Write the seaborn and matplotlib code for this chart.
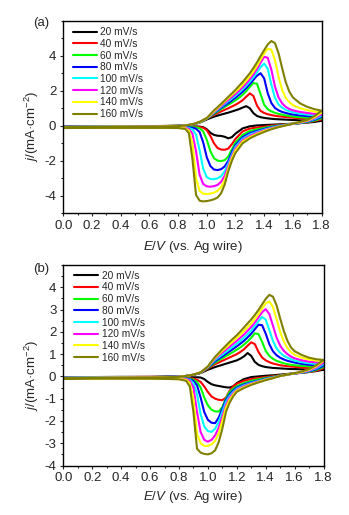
import numpy as np
import pandas as pd
import seaborn as sns
import matplotlib.pyplot as plt
from matplotlib.ticker import MultipleLocator, FormatStrFormatter

# scan rates and colours
rates = ['20 mV/s', '40 mV/s', '60 mV/s', '80 mV/s',
         '100 mV/s', '120 mV/s', '140 mV/s', '160 mV/s']
colors = ['#000000', '#ff0000', '#00ff00', '#0000ff',
          '#00ffff', '#ff00ff', '#ffff00', '#808000']

# potential grid: forward (anodic) scan and reverse (cathodic) scan
E_fwd = [0.0, 0.2, 0.4, 0.6, 0.7, 0.8, 0.85, 0.9, 0.95,
         1.0, 1.05, 1.1, 1.15, 1.2, 1.225, 1.25, 1.275, 1.3, 1.325, 1.35, 1.375,
         1.4, 1.425, 1.45, 1.475, 1.5, 1.525, 1.55, 1.575, 1.6, 1.65, 1.7, 1.75, 1.8]
E_rev = [1.8, 1.75, 1.7, 1.65, 1.6, 1.55, 1.5, 1.45, 1.4, 1.35, 1.3, 1.25,
         1.2, 1.175, 1.15, 1.125, 1.1, 1.075, 1.05, 1.025, 1.0, 0.975, 0.95, 0.925, 0.9, 0.875, 0.85,
         0.8, 0.7, 0.6, 0.4, 0.2, 0.0]

# panel (a), current density mA/cm2, one row per scan rate
a_fwd = [
    [-0.03, -0.03, -0.02, -0.02, -0.01, 0.0, 0.02, 0.07, 0.18,
     0.36, 0.52, 0.64, 0.75, 0.88, 0.95, 1.04, 1.12, 1.0, 0.72, 0.56, 0.49, 0.45, 0.42, 0.4, 0.38,
     0.37, 0.36, 0.35, 0.34, 0.33, 0.31, 0.3, 0.29, 0.28],
    [-0.04, -0.03, -0.03, -0.02, -0.02, 0.0, 0.02, 0.07, 0.19,
     0.4, 0.62, 0.82, 1.0, 1.2, 1.32, 1.46, 1.66, 1.85, 1.7, 1.15, 0.85, 0.73, 0.66, 0.61, 0.57,
     0.54, 0.52, 0.5, 0.48, 0.46, 0.43, 0.41, 0.39, 0.37],
    [-0.04, -0.04, -0.03, -0.03, -0.02, 0.0, 0.02, 0.07, 0.19,
     0.41, 0.68, 0.95, 1.2, 1.45, 1.6, 1.77, 1.98, 2.22, 2.44, 2.4, 1.8, 1.2, 0.95, 0.82, 0.74,
     0.68, 0.63, 0.59, 0.56, 0.53, 0.49, 0.46, 0.44, 0.42],
    [-0.05, -0.05, -0.04, -0.03, -0.02, -0.01, 0.02, 0.07, 0.2,
     0.42, 0.72, 1.02, 1.3, 1.6, 1.77, 1.95, 2.15, 2.38, 2.62, 2.86, 3.0, 2.7, 1.85, 1.3, 1.02,
     0.88, 0.79, 0.73, 0.68, 0.64, 0.59, 0.55, 0.52, 0.5],
    [-0.06, -0.05, -0.04, -0.04, -0.03, -0.01, 0.02, 0.08, 0.2,
     0.42, 0.75, 1.08, 1.4, 1.72, 1.9, 2.08, 2.3, 2.52, 2.77, 3.04, 3.35, 3.55, 3.25, 2.35, 1.6,
     1.22, 1.03, 0.91, 0.83, 0.77, 0.69, 0.64, 0.6, 0.57],
    [-0.06, -0.06, -0.05, -0.04, -0.03, -0.01, 0.02, 0.08, 0.21,
     0.43, 0.78, 1.13, 1.48, 1.82, 2.0, 2.2, 2.42, 2.66, 2.93, 3.24, 3.6, 3.94, 3.88, 3.2, 2.25,
     1.62, 1.28, 1.08, 0.96, 0.88, 0.79, 0.73, 0.68, 0.65],
    [-0.07, -0.06, -0.05, -0.05, -0.04, -0.02, 0.02, 0.08, 0.21,
     0.43, 0.82, 1.2, 1.58, 1.95, 2.13, 2.35, 2.58, 2.83, 3.1, 3.42, 3.78, 4.13, 4.4, 4.35, 3.75,
     2.8, 2.05, 1.6, 1.35, 1.18, 1.0, 0.89, 0.81, 0.75],
    [-0.08, -0.07, -0.06, -0.05, -0.04, -0.02, 0.02, 0.08, 0.22,
     0.44, 0.88, 1.25, 1.65, 2.05, 2.28, 2.5, 2.75, 3.0, 3.3, 3.62, 3.98, 4.32, 4.65, 4.84, 4.72,
     4.15, 3.3, 2.5, 1.95, 1.62, 1.28, 1.08, 0.95, 0.86],
]
a_rev = [
    [0.28, 0.22, 0.18, 0.15, 0.12, 0.1, 0.08, 0.06, 0.04, 0.02, -0.03, -0.15,
     -0.45, -0.65, -0.72, -0.63, -0.58, -0.57, -0.52, -0.4, -0.2, -0.08, -0.05, -0.04, -0.04, -0.04, -0.04,
     -0.04, -0.04, -0.04, -0.04, -0.04, -0.04],
    [0.37, 0.27, 0.2, 0.15, 0.11, 0.08, 0.05, 0.01, -0.05, -0.1, -0.16, -0.32,
     -0.75, -1.05, -1.3, -1.37, -1.36, -1.27, -1.0, -0.58, -0.25, -0.11, -0.07, -0.06, -0.06, -0.06, -0.06,
     -0.06, -0.06, -0.06, -0.06, -0.06, -0.06],
    [0.42, 0.3, 0.21, 0.15, 0.11, 0.07, 0.02, -0.04, -0.12, -0.2, -0.3, -0.52,
     -0.95, -1.35, -1.75, -1.96, -2.02, -1.99, -1.85, -1.45, -0.8, -0.32, -0.14, -0.09, -0.08, -0.07, -0.07,
     -0.07, -0.07, -0.07, -0.07, -0.07, -0.08],
    [0.5, 0.34, 0.23, 0.16, 0.11, 0.06, 0.0, -0.08, -0.18, -0.29, -0.42, -0.65,
     -1.1, -1.5, -2.0, -2.32, -2.48, -2.53, -2.5, -2.3, -1.8, -0.95, -0.36, -0.17, -0.11, -0.09, -0.08,
     -0.08, -0.08, -0.08, -0.08, -0.08, -0.09],
    [0.57, 0.38, 0.25, 0.17, 0.11, 0.05, -0.02, -0.11, -0.22, -0.35, -0.5, -0.74,
     -1.2, -1.65, -2.15, -2.6, -2.88, -3.0, -3.05, -3.04, -2.93, -2.45, -1.4, -0.5, -0.2, -0.13, -0.1,
     -0.09, -0.09, -0.09, -0.09, -0.09, -0.1],
    [0.65, 0.43, 0.27, 0.18, 0.11, 0.04, -0.04, -0.14, -0.26, -0.4, -0.58, -0.82,
     -1.3, -1.75, -2.3, -2.85, -3.2, -3.38, -3.45, -3.48, -3.46, -3.33, -2.8, -1.45, -0.45, -0.18, -0.12,
     -0.11, -0.1, -0.1, -0.1, -0.1, -0.11],
    [0.75, 0.48, 0.3, 0.2, 0.12, 0.03, -0.06, -0.17, -0.3, -0.46, -0.65, -0.9,
     -1.4, -1.85, -2.45, -3.1, -3.5, -3.72, -3.82, -3.87, -3.9, -3.88, -3.72, -3.0, -1.0, -0.27, -0.15,
     -0.12, -0.11, -0.11, -0.11, -0.11, -0.12],
    [0.86, 0.55, 0.33, 0.22, 0.12, 0.02, -0.08, -0.2, -0.35, -0.52, -0.72, -1.0,
     -1.55, -2.0, -2.6, -3.35, -3.85, -4.1, -4.2, -4.26, -4.3, -4.32, -4.28, -3.95, -1.9, -0.42, -0.18,
     -0.13, -0.12, -0.12, -0.12, -0.12, -0.13],
]

# panel (b)
b_fwd = [
    [-0.03, -0.03, -0.02, -0.02, -0.01, 0.0, 0.02, 0.07, 0.15,
     0.3, 0.42, 0.52, 0.62, 0.72, 0.8, 0.9, 1.05, 0.92, 0.65, 0.52, 0.46, 0.42, 0.4, 0.38, 0.37,
     0.36, 0.35, 0.34, 0.33, 0.33, 0.32, 0.31, 0.3, 0.3],
    [-0.04, -0.03, -0.03, -0.02, -0.02, 0.0, 0.02, 0.07, 0.16,
     0.35, 0.55, 0.7, 0.85, 1.0, 1.1, 1.22, 1.38, 1.53, 1.45, 1.1, 0.85, 0.72, 0.64, 0.58, 0.54,
     0.5, 0.48, 0.46, 0.44, 0.43, 0.4, 0.38, 0.37, 0.36],
    [-0.04, -0.04, -0.03, -0.03, -0.02, 0.0, 0.02, 0.07, 0.17,
     0.38, 0.62, 0.82, 1.0, 1.2, 1.3, 1.43, 1.57, 1.74, 1.93, 1.9, 1.55, 1.15, 0.92, 0.79, 0.7,
     0.64, 0.59, 0.55, 0.52, 0.5, 0.47, 0.45, 0.43, 0.42],
    [-0.05, -0.05, -0.04, -0.03, -0.02, -0.01, 0.02, 0.07, 0.17,
     0.4, 0.68, 0.9, 1.12, 1.35, 1.47, 1.6, 1.75, 1.92, 2.12, 2.32, 2.3, 1.92, 1.45, 1.13, 0.95,
     0.84, 0.76, 0.7, 0.66, 0.62, 0.56, 0.52, 0.5, 0.48],
    [-0.06, -0.05, -0.04, -0.04, -0.03, -0.01, 0.02, 0.08, 0.17,
     0.42, 0.74, 0.98, 1.22, 1.47, 1.6, 1.74, 1.9, 2.07, 2.27, 2.48, 2.67, 2.55, 2.08, 1.6, 1.26,
     1.06, 0.93, 0.84, 0.77, 0.71, 0.64, 0.59, 0.56, 0.55],
    [-0.06, -0.06, -0.05, -0.04, -0.03, -0.01, 0.02, 0.08, 0.18,
     0.43, 0.8, 1.07, 1.33, 1.6, 1.74, 1.88, 2.05, 2.22, 2.42, 2.65, 2.88, 3.02, 2.8, 2.28, 1.75,
     1.38, 1.15, 1.0, 0.89, 0.81, 0.72, 0.66, 0.63, 0.62],
    [-0.07, -0.06, -0.05, -0.05, -0.04, -0.02, 0.02, 0.08, 0.18,
     0.44, 0.84, 1.15, 1.44, 1.73, 1.88, 2.04, 2.21, 2.38, 2.58, 2.8, 3.05, 3.28, 3.36, 3.12, 2.58,
     2.0, 1.58, 1.28, 1.09, 0.97, 0.84, 0.76, 0.71, 0.7],
    [-0.08, -0.07, -0.06, -0.05, -0.04, -0.02, 0.02, 0.08, 0.18,
     0.45, 0.88, 1.22, 1.55, 1.85, 2.02, 2.2, 2.38, 2.56, 2.76, 2.98, 3.23, 3.48, 3.66, 3.58, 3.2,
     2.6, 2.05, 1.6, 1.3, 1.13, 0.96, 0.84, 0.77, 0.74],
]
b_rev = [
    [0.3, 0.24, 0.2, 0.17, 0.14, 0.11, 0.08, 0.05, 0.03, 0.0, -0.03, -0.12,
     -0.3, -0.45, -0.5, -0.49, -0.46, -0.43, -0.4, -0.35, -0.25, -0.12, -0.05, -0.04, -0.04, -0.04, -0.04,
     -0.04, -0.04, -0.04, -0.04, -0.04, -0.04],
    [0.36, 0.26, 0.2, 0.16, 0.13, 0.1, 0.05, 0.01, -0.03, -0.07, -0.12, -0.2,
     -0.33, -0.45, -0.65, -0.95, -1.07, -1.05, -1.0, -0.9, -0.7, -0.45, -0.25, -0.15, -0.1, -0.08, -0.07,
     -0.06, -0.05, -0.05, -0.05, -0.05, -0.06],
    [0.42, 0.29, 0.21, 0.17, 0.13, 0.09, 0.04, -0.02, -0.07, -0.13, -0.2, -0.3,
     -0.44, -0.55, -0.7, -0.98, -1.38, -1.58, -1.57, -1.5, -1.3, -0.95, -0.5, -0.25, -0.15, -0.1, -0.09,
     -0.07, -0.06, -0.06, -0.06, -0.06, -0.07],
    [0.48, 0.32, 0.23, 0.17, 0.13, 0.08, 0.03, -0.04, -0.1, -0.19, -0.26, -0.36,
     -0.5, -0.63, -0.8, -1.05, -1.45, -1.85, -2.1, -2.08, -1.95, -1.6, -0.95, -0.4, -0.2, -0.12, -0.1,
     -0.08, -0.07, -0.07, -0.07, -0.07, -0.08],
    [0.55, 0.36, 0.25, 0.18, 0.14, 0.08, 0.02, -0.05, -0.12, -0.21, -0.29, -0.4,
     -0.55, -0.7, -0.88, -1.15, -1.6, -2.05, -2.35, -2.49, -2.45, -2.25, -1.7, -0.8, -0.3, -0.15, -0.11,
     -0.09, -0.08, -0.08, -0.08, -0.08, -0.09],
    [0.62, 0.4, 0.27, 0.19, 0.14, 0.08, 0.02, -0.06, -0.14, -0.23, -0.32, -0.44,
     -0.6, -0.76, -0.96, -1.28, -1.8, -2.3, -2.65, -2.85, -2.93, -2.85, -2.5, -1.6, -0.5, -0.2, -0.12,
     -0.1, -0.09, -0.09, -0.09, -0.09, -0.1],
    [0.7, 0.45, 0.3, 0.2, 0.14, 0.08, 0.02, -0.07, -0.15, -0.25, -0.35, -0.48,
     -0.64, -0.82, -1.05, -1.4, -2.0, -2.55, -2.9, -3.05, -3.12, -3.12, -3.0, -2.6, -1.0, -0.3, -0.15,
     -0.12, -0.1, -0.1, -0.1, -0.1, -0.1],
    [0.74, 0.5, 0.33, 0.22, 0.15, 0.08, 0.02, -0.08, -0.17, -0.27, -0.38, -0.52,
     -0.69, -0.9, -1.18, -1.6, -2.35, -2.95, -3.32, -3.45, -3.5, -3.48, -3.42, -3.25, -1.6, -0.45, -0.2,
     -0.13, -0.11, -0.1, -0.1, -0.1, -0.11],
]

sns.set_style('ticks')
plt.rcParams['font.family'] = ['Liberation Sans', 'DejaVu Sans']
plt.rcParams['mathtext.fontset'] = 'custom'
plt.rcParams['mathtext.rm'] = 'Liberation Sans'
plt.rcParams['mathtext.it'] = 'Liberation Sans:italic'
plt.rcParams['axes.unicode_minus'] = False


def make_frame(fwd, rev):
    rows = []
    for rate, f, r in zip(rates, fwd, rev):
        E = E_fwd + E_rev[1:]
        j = f + r[1:]
        for k in range(len(E)):
            rows.append((rate, k, E[k], j[k]))
    return pd.DataFrame(rows, columns=['rate', 'k', 'E', 'j'])


def draw(ax, df, ylim, yticks, yminor, legend_xy, xlab_y):
    sns.lineplot(data=df, x='E', y='j', hue='rate', hue_order=rates, palette=colors,
                 sort=False, estimator=None, lw=1.5, legend=False, ax=ax)
    ax.set_xlim(0, 1.8)
    ax.set_ylim(*ylim)
    ax.xaxis.set_major_locator(MultipleLocator(0.2))
    ax.xaxis.set_minor_locator(MultipleLocator(0.1))
    ax.xaxis.set_major_formatter(FormatStrFormatter('%.1f'))
    ax.set_yticks(yticks)
    ax.yaxis.set_minor_locator(MultipleLocator(yminor))
    ax.tick_params(which='major', direction='out', length=2.5, width=0.8, labelsize=9.5, pad=2.5)
    ax.tick_params(which='minor', direction='out', length=1.5, width=0.8)
    for sp in ax.spines.values():
        sp.set_linewidth(1.0)
        sp.set_color('black')
    ax.set_xlabel('$E/V$ (vs. Ag wire)', fontsize=9.5)
    ax.set_ylabel('$j$/(mA·cm$^{-2}$)', fontsize=9.5)
    ax.xaxis.set_label_coords(0.5, xlab_y)
    ax.yaxis.set_label_coords(-0.085, 0.45)
    ax.legend(ax.lines[:len(rates)], rates, loc='upper left', bbox_to_anchor=legend_xy,
              frameon=False, fontsize=7.3, handlelength=2.4, handletextpad=0.35,
              labelspacing=0.17, borderpad=0, borderaxespad=0)


fig = plt.figure(figsize=(3.49, 5.15), dpi=100)
ax_a = fig.add_axes([0.1814, 0.5858, 0.740, 0.374])
ax_b = fig.add_axes([0.1814, 0.0961, 0.7456, 0.3893])

draw(ax_a, make_frame(a_fwd, a_rev), (-5, 6), [-4, -2, 0, 2, 4], 1, (0.036, 0.967), -0.135)
draw(ax_b, make_frame(b_fwd, b_rev), (-4, 5), [-4, -3, -2, -1, 0, 1, 2, 3, 4], 0.5, (0.041, 0.972), -0.117)

fig.text(41.5 / 349, 1 - 23 / 515, '(a)', ha='center', va='center', fontsize=9.5)
fig.text(41.5 / 349, 1 - 269 / 515, '(b)', ha='center', va='center', fontsize=9.5)

fig.savefig('out.png', dpi=100)
